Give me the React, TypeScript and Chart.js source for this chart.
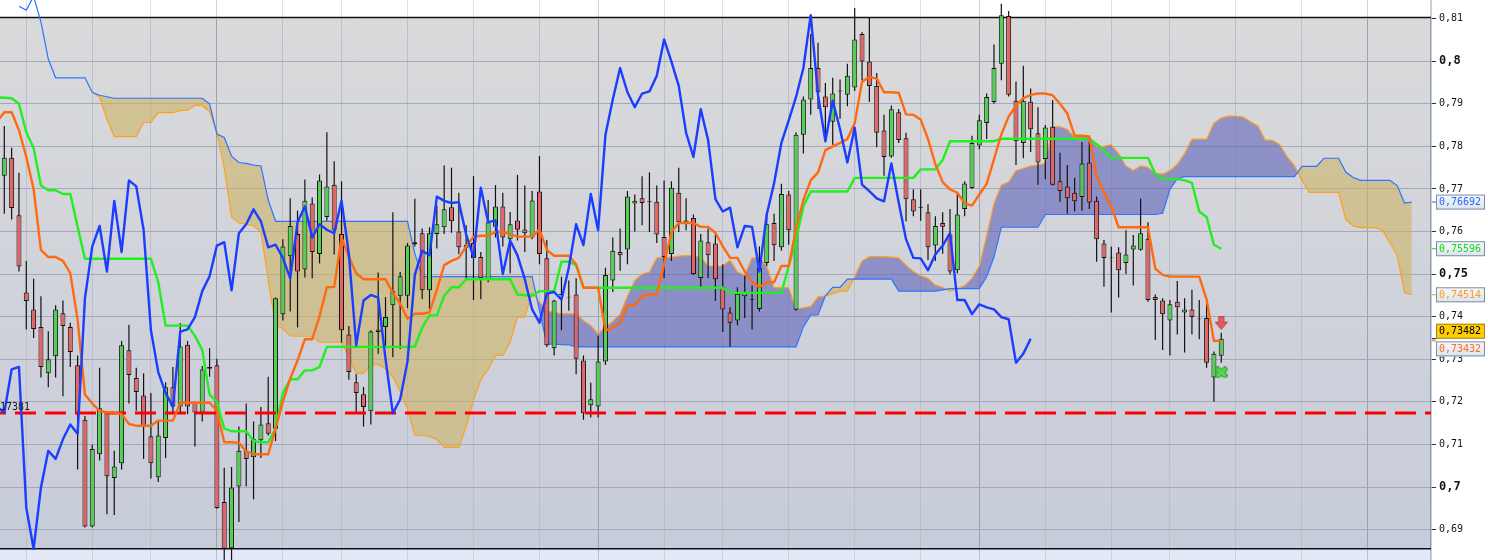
import { useEffect, useRef } from 'react';
import { Chart, registerables } from 'chart.js';

Chart.register(...registerables);

// candles, index 0 = first bar on the left
const opens = [
  0.7731, 0.7773, 0.7638, 0.7457, 0.7417, 0.7376, 0.7267, 0.7307, 0.7408, 0.7376,
  0.7286, 0.7158, 0.6907, 0.7077, 0.7175, 0.7021, 0.7056, 0.7321, 0.7256, 0.7215,
  0.7119, 0.7023, 0.7115, 0.7234, 0.7189, 0.7334, 0.7198, 0.7175, 0.7278, 0.7286,
  0.6965, 0.6856, 0.7001, 0.7086, 0.7070, 0.7110, 0.7150, 0.7137, 0.7406, 0.7542,
  0.7594, 0.7511, 0.7666, 0.7547, 0.7634, 0.7710, 0.7594, 0.7358, 0.7246, 0.7218,
  0.7178, 0.7364, 0.7376, 0.7427, 0.7448, 0.7449, 0.7570, 0.7596, 0.7462, 0.7594,
  0.7610, 0.7657, 0.7600, 0.7562, 0.7573, 0.7540, 0.7487, 0.7611, 0.7659, 0.7582,
  0.7626, 0.7605, 0.7586, 0.7694, 0.7537, 0.7326, 0.7453, 0.7447, 0.7452, 0.7297,
  0.7192, 0.7189, 0.7295, 0.7485, 0.7552, 0.7558, 0.7666, 0.7678, 0.7671, 0.7670,
  0.7587, 0.7547, 0.7691, 0.7620, 0.7632, 0.7491, 0.7575, 0.7572, 0.7469, 0.7410,
  0.7391, 0.7448, 0.7442, 0.7418, 0.7526, 0.7620, 0.7563, 0.7687, 0.7416, 0.7827,
  0.7910, 0.7984, 0.7917, 0.7858, 0.7931, 0.7921, 0.7938, 0.8064, 0.7999, 0.7942,
  0.7837, 0.7776, 0.7880, 0.7819, 0.7676, 0.7658, 0.7645, 0.7567, 0.7620, 0.7593,
  0.7509, 0.7653, 0.7702, 0.7802, 0.7855, 0.7904, 0.7994, 0.8106, 0.7907, 0.7808,
  0.7905, 0.7831, 0.7770, 0.7846, 0.7718, 0.7706, 0.7691, 0.7681, 0.7762, 0.7672,
  0.7572, 0.7539, 0.7551, 0.7526, 0.7558, 0.7557, 0.7583, 0.7446, 0.7438, 0.7391,
  0.7435, 0.7410, 0.7417, 0.7396, 0.7397, 0.7257, 0.7308,
];
const highs = [
  0.7848, 0.7797, 0.7738, 0.7531, 0.7489, 0.7448, 0.7366, 0.7427, 0.7438, 0.7386,
  0.7309, 0.7167, 0.7100, 0.7280, 0.7178, 0.7085, 0.7343, 0.7381, 0.7280, 0.7267,
  0.7221, 0.7154, 0.7246, 0.7282, 0.7385, 0.7343, 0.7200, 0.7284, 0.7326, 0.7301,
  0.7045, 0.7047, 0.7142, 0.7196, 0.7154, 0.7188, 0.7259, 0.7445, 0.7582, 0.7678,
  0.7649, 0.7722, 0.7680, 0.7734, 0.7833, 0.7765, 0.7718, 0.7378, 0.7265, 0.7235,
  0.7368, 0.7504, 0.7446, 0.7645, 0.7505, 0.7573, 0.7677, 0.7607, 0.7610, 0.7661,
  0.7755, 0.7750, 0.7691, 0.7615, 0.7730, 0.7552, 0.7674, 0.7709, 0.7691, 0.7646,
  0.7733, 0.7708, 0.7695, 0.7777, 0.7580, 0.7440, 0.7494, 0.7485, 0.7490, 0.7309,
  0.7245, 0.7355, 0.7515, 0.7586, 0.7607, 0.7695, 0.7687, 0.7730, 0.7739, 0.7708,
  0.7720, 0.7718, 0.7750, 0.7678, 0.7640, 0.7594, 0.7607, 0.7599, 0.7523, 0.7422,
  0.7469, 0.7496, 0.7473, 0.7565, 0.7640, 0.7642, 0.7712, 0.7695, 0.7833, 0.7917,
  0.8064, 0.8043, 0.7949, 0.7961, 0.7957, 0.7994, 0.8125, 0.8068, 0.8103, 0.7972,
  0.7874, 0.7896, 0.7888, 0.7832, 0.7699, 0.7699, 0.7664, 0.7636, 0.7645, 0.7653,
  0.7689, 0.7718, 0.7825, 0.7874, 0.7924, 0.8039, 0.8135, 0.8118, 0.7952, 0.7989,
  0.7936, 0.7892, 0.7850, 0.7909, 0.7785, 0.7756, 0.7726, 0.7810, 0.7812, 0.7682,
  0.7580, 0.7565, 0.7563, 0.7603, 0.7592, 0.7677, 0.7622, 0.7452, 0.7443, 0.7439,
  0.7484, 0.7443, 0.7463, 0.7439, 0.7443, 0.7318, 0.7362,
];
const lows = [
  0.7642, 0.7628, 0.7506, 0.7370, 0.7350, 0.7257, 0.7234, 0.7257, 0.7213, 0.7282,
  0.7041, 0.6905, 0.6905, 0.7062, 0.6936, 0.6934, 0.7041, 0.7196, 0.7179, 0.7066,
  0.7020, 0.7012, 0.7068, 0.7171, 0.7171, 0.7171, 0.7095, 0.7154, 0.7259, 0.6949,
  0.6825, 0.6825, 0.6918, 0.7001, 0.6971, 0.7068, 0.7121, 0.7108, 0.7391, 0.7412,
  0.7375, 0.7492, 0.7490, 0.7525, 0.7625, 0.7546, 0.7339, 0.7252, 0.7175, 0.7142,
  0.7147, 0.7313, 0.7332, 0.7305, 0.7324, 0.7420, 0.7565, 0.7441, 0.7418, 0.7560,
  0.7594, 0.7597, 0.7547, 0.7490, 0.7439, 0.7441, 0.7481, 0.7586, 0.7565, 0.7502,
  0.7579, 0.7552, 0.7582, 0.7523, 0.7329, 0.7309, 0.7368, 0.7414, 0.7265, 0.7158,
  0.7163, 0.7163, 0.7287, 0.7458, 0.7508, 0.7523, 0.7600, 0.7615, 0.7599, 0.7573,
  0.7491, 0.7531, 0.7599, 0.7603, 0.7498, 0.7469, 0.7490, 0.7437, 0.7364, 0.7330,
  0.7380, 0.7397, 0.7370, 0.7412, 0.7519, 0.7531, 0.7555, 0.7569, 0.7414, 0.7783,
  0.7874, 0.7888, 0.7812, 0.7804, 0.7865, 0.7894, 0.7930, 0.7955, 0.7905, 0.7798,
  0.7731, 0.7773, 0.7808, 0.7624, 0.7636, 0.7625, 0.7533, 0.7531, 0.7548, 0.7499,
  0.7502, 0.7636, 0.7700, 0.7793, 0.7817, 0.7900, 0.7955, 0.7917, 0.7756, 0.7772,
  0.7787, 0.7710, 0.7723, 0.7708, 0.7670, 0.7642, 0.7647, 0.7649, 0.7653, 0.7529,
  0.7470, 0.7410, 0.7445, 0.7500, 0.7473, 0.7555, 0.7435, 0.7345, 0.7322, 0.7309,
  0.7358, 0.7316, 0.7358, 0.7347, 0.7280, 0.7200, 0.7292,
];
const closes = [
  0.7773, 0.7655, 0.7518, 0.7437, 0.7371, 0.7282, 0.7300, 0.7417, 0.7378, 0.7317,
  0.7171, 0.6907, 0.7089, 0.7185, 0.7025, 0.7048, 0.7333, 0.7263, 0.7223, 0.7142,
  0.7056, 0.7121, 0.7234, 0.7189, 0.7330, 0.7189, 0.7175, 0.7276, 0.7282, 0.6951,
  0.6855, 0.6999, 0.7085, 0.7066, 0.7112, 0.7147, 0.7125, 0.7443, 0.7565, 0.7613,
  0.7506, 0.7672, 0.7552, 0.7720, 0.7706, 0.7604, 0.7368, 0.7270, 0.7221, 0.7188,
  0.7365, 0.7370, 0.7399, 0.7460, 0.7495, 0.7567, 0.7575, 0.7462, 0.7596, 0.7617,
  0.7652, 0.7624, 0.7563, 0.7569, 0.7538, 0.7490, 0.7622, 0.7659, 0.7586, 0.7617,
  0.7604, 0.7596, 0.7673, 0.7547, 0.7333, 0.7438, 0.7451, 0.7445, 0.7301, 0.7173,
  0.7206, 0.7295, 0.7498, 0.7555, 0.7544, 0.7682, 0.7672, 0.7667, 0.7669, 0.7593,
  0.7540, 0.7703, 0.7622, 0.7626, 0.7500, 0.7579, 0.7544, 0.7488, 0.7417, 0.7386,
  0.7454, 0.7458, 0.7440, 0.7515, 0.7617, 0.7568, 0.7688, 0.7603, 0.7827, 0.7910,
  0.7984, 0.7927, 0.7892, 0.7924, 0.7929, 0.7966, 0.8051, 0.7999, 0.7942, 0.7832,
  0.7775, 0.7887, 0.7815, 0.7676, 0.7647, 0.7656, 0.7563, 0.7613, 0.7611, 0.7506,
  0.7640, 0.7713, 0.7808, 0.7861, 0.7916, 0.7984, 0.8108, 0.7921, 0.7812, 0.7907,
  0.7840, 0.7762, 0.7844, 0.7710, 0.7695, 0.7678, 0.7671, 0.7760, 0.7668, 0.7582,
  0.7538, 0.7537, 0.7509, 0.7546, 0.7567, 0.7596, 0.7439, 0.7439, 0.7406, 0.7429,
  0.7422, 0.7417, 0.7399, 0.7394, 0.7292, 0.7313, 0.73482,
];

// chikou span, first value sits at bar -1
const chikouStart = -1;
const chikou = [
  0.7189,
  0.7175, 0.7276, 0.7282, 0.6951, 0.6855, 0.6999, 0.7085, 0.7066, 0.7112, 0.7147,
  0.7125, 0.7443, 0.7565, 0.7613, 0.7506, 0.7672, 0.7552, 0.7720, 0.7706, 0.7604,
  0.7368, 0.7270, 0.7221, 0.7188, 0.7365, 0.7370, 0.7399, 0.7460, 0.7495, 0.7567,
  0.7575, 0.7462, 0.7596, 0.7617, 0.7652, 0.7624, 0.7563, 0.7569, 0.7538, 0.7490,
  0.7622, 0.7659, 0.7586, 0.7617, 0.7604, 0.7596, 0.7673, 0.7547, 0.7333, 0.7438,
  0.7451, 0.7445, 0.7301, 0.7173, 0.7206, 0.7295, 0.7498, 0.7555, 0.7544, 0.7682,
  0.7672, 0.7667, 0.7669, 0.7593, 0.7540, 0.7703, 0.7622, 0.7626, 0.7500, 0.7579,
  0.7544, 0.7488, 0.7417, 0.7386, 0.7454, 0.7458, 0.7440, 0.7515, 0.7617, 0.7568,
  0.7688, 0.7603, 0.7827, 0.7910, 0.7984, 0.7927, 0.7892, 0.7924, 0.7929, 0.7966,
  0.8051, 0.7999, 0.7942, 0.7832, 0.7775, 0.7887, 0.7815, 0.7676, 0.7647, 0.7656,
  0.7563, 0.7613, 0.7611, 0.7506, 0.7640, 0.7713, 0.7808, 0.7861, 0.7916, 0.7984,
  0.8108, 0.7921, 0.7812, 0.7907, 0.7840, 0.7762, 0.7844, 0.7710, 0.7695, 0.7678,
  0.7671, 0.7760, 0.7668, 0.7582, 0.7538, 0.7537, 0.7509, 0.7546, 0.7567, 0.7596,
  0.7439, 0.7439, 0.7406, 0.7429, 0.7422, 0.7417, 0.7399, 0.7394, 0.7292, 0.7313,
  0.73482,
];

// [bar index, value] vertices
const tenkan: [number, number][] = [
  [-1, 0.7858], [0, 0.788], [1, 0.788], [2, 0.7838], [3, 0.7775], [4, 0.7699], [5, 0.7557], [6, 0.754],
  [7, 0.754], [8, 0.7531], [9, 0.7502], [10, 0.7393], [11, 0.7217], [12, 0.7196], [13, 0.7179], [14, 0.7175],
  [15, 0.7175], [16, 0.7171], [17, 0.7148], [18, 0.7144], [20, 0.7144], [21, 0.7156], [23, 0.7156],
  [24, 0.7198], [28, 0.7198], [29, 0.7179], [30, 0.7105], [31, 0.7105], [32, 0.7104], [33, 0.7083],
  [34, 0.7077], [36, 0.7077], [37, 0.7137], [38, 0.72], [39, 0.7255], [40, 0.7297], [41, 0.7347],
  [42, 0.7347], [43, 0.7401], [44, 0.7469], [45, 0.747], [46, 0.7586], [47, 0.754], [48, 0.7502],
  [49, 0.7488], [52, 0.7488], [53, 0.7456], [54, 0.7431], [55, 0.7395], [56, 0.7407], [57, 0.7407],
  [58, 0.741], [59, 0.7463], [60, 0.7521], [61, 0.7531], [62, 0.7538], [63, 0.7565], [64, 0.7588],
  [65, 0.759], [66, 0.759], [67, 0.7599], [68, 0.7599], [69, 0.7594], [70, 0.7588], [72, 0.7588],
  [73, 0.7605], [74, 0.7557], [75, 0.7543], [77, 0.7543], [78, 0.7523], [79, 0.7468], [81, 0.7468],
  [82, 0.7368], [83, 0.7374], [84, 0.7385], [85, 0.7427], [86, 0.7427], [87, 0.7448], [88, 0.7452],
  [89, 0.7452], [90, 0.7523], [91, 0.7599], [92, 0.762], [94, 0.762], [95, 0.7611], [96, 0.7611],
  [97, 0.7597], [98, 0.7565], [99, 0.7538], [100, 0.7538], [101, 0.7506], [102, 0.7481], [103, 0.747],
  [104, 0.7481], [105, 0.7481], [106, 0.7519], [107, 0.7519], [108, 0.7607], [109, 0.7674], [110, 0.772],
  [111, 0.7739], [112, 0.7791], [113, 0.78], [114, 0.7808], [115, 0.7817], [116, 0.7854], [117, 0.7952],
  [118, 0.7963], [119, 0.7959], [120, 0.7927], [121, 0.7927], [122, 0.7926], [123, 0.7875], [124, 0.7874],
  [125, 0.7863], [126, 0.7817], [127, 0.7758], [128, 0.7716], [129, 0.7699], [130, 0.7691], [131, 0.7666],
  [132, 0.7661], [133, 0.7687], [134, 0.7712], [135, 0.777], [136, 0.7828], [137, 0.787], [138, 0.7895],
  [139, 0.7913], [140, 0.7921], [141, 0.7924], [142, 0.7924], [143, 0.792], [144, 0.79], [145, 0.7877],
  [146, 0.7825], [147, 0.7825], [148, 0.7823], [149, 0.7729], [150, 0.7692], [151, 0.7659], [152, 0.761],
  [156, 0.761], [157, 0.7513], [158, 0.7498], [159, 0.7494], [163, 0.7494], [164, 0.744], [165, 0.7343],
  [166, 0.73432],
];
const kijun: [number, number][] = [
  [-1, 0.7915], [1, 0.7913], [2, 0.79], [3, 0.7833], [4, 0.7796], [5, 0.7708], [6, 0.7697], [7, 0.7697],
  [8, 0.7688], [9, 0.7688], [10, 0.7611], [11, 0.7536], [20, 0.7536], [21, 0.7481], [22, 0.7379],
  [25, 0.7379], [26, 0.7355], [27, 0.7322], [28, 0.7217], [29, 0.72], [30, 0.7137], [31, 0.7131],
  [33, 0.7131], [34, 0.7108], [35, 0.7105], [36, 0.7105], [37, 0.7137], [38, 0.7221], [39, 0.7253],
  [40, 0.7253], [41, 0.7274], [42, 0.7274], [43, 0.7282], [44, 0.7329], [55, 0.7329], [56, 0.733],
  [57, 0.7374], [58, 0.7403], [59, 0.7403], [60, 0.7449], [61, 0.7469], [62, 0.7469], [63, 0.7488],
  [69, 0.7488], [70, 0.7452], [72, 0.7449], [73, 0.746], [75, 0.746], [76, 0.7529], [77, 0.7529],
  [78, 0.7521], [79, 0.7468], [98, 0.7468], [99, 0.7456], [106, 0.7456], [107, 0.7518], [108, 0.7582],
  [109, 0.7659], [110, 0.7694], [115, 0.7694], [116, 0.7726], [124, 0.7726], [125, 0.7746], [127, 0.7746],
  [128, 0.7768], [129, 0.7812], [135, 0.7812], [136, 0.7818], [148, 0.7818], [149, 0.7805], [150, 0.7791],
  [151, 0.7773], [156, 0.7773], [157, 0.7735], [158, 0.7723], [160, 0.7723], [161, 0.772], [162, 0.7714],
  [163, 0.7647], [164, 0.7634], [165, 0.7569], [166, 0.75596],
];
const spanA: [number, number][] = [
  [12, 0.7927], [13, 0.7916], [14, 0.7863], [15, 0.7823], [18, 0.7823], [19, 0.7856], [20, 0.7856],
  [21, 0.7879], [23, 0.7879], [24, 0.7884], [25, 0.7885], [26, 0.7896], [27, 0.7896], [28, 0.7882],
  [29, 0.7833], [30, 0.7749], [31, 0.7634], [32, 0.762], [33, 0.7617], [34, 0.7613], [35, 0.76],
  [36, 0.7486], [37, 0.738], [38, 0.7372], [39, 0.7355], [40, 0.7354], [42, 0.7354], [43, 0.734],
  [46, 0.734], [47, 0.7305], [48, 0.7267], [49, 0.7267], [50, 0.7287], [51, 0.7288], [52, 0.7278],
  [53, 0.7259], [54, 0.7225], [55, 0.7183], [56, 0.7122], [57, 0.7121], [58, 0.7119], [59, 0.7112],
  [60, 0.7093], [62, 0.7093], [63, 0.7142], [64, 0.7204], [65, 0.7252], [66, 0.7276], [67, 0.7309],
  [68, 0.7309], [69, 0.734], [70, 0.7399], [71, 0.7399], [72, 0.7456], [73, 0.7435], [74, 0.7414],
  [75, 0.741], [76, 0.7407], [77, 0.7407], [78, 0.7406], [79, 0.7391], [80, 0.7379], [81, 0.736],
  [82, 0.7376], [83, 0.7389], [84, 0.7406], [85, 0.7448], [86, 0.7485], [87, 0.75], [88, 0.7505],
  [89, 0.7538], [90, 0.754], [91, 0.754], [92, 0.7542], [93, 0.7544], [94, 0.7542], [95, 0.754],
  [96, 0.7519], [98, 0.7519], [99, 0.7533], [100, 0.7505], [101, 0.7498], [102, 0.7538], [103, 0.7538],
  [104, 0.7519], [105, 0.7468], [107, 0.7468], [108, 0.7418], [109, 0.7421], [110, 0.7424], [111, 0.7446],
  [112, 0.7449], [113, 0.7454], [114, 0.746], [115, 0.746], [116, 0.7494], [117, 0.7531], [118, 0.7541],
  [120, 0.7541], [121, 0.754], [122, 0.7538], [123, 0.7521], [124, 0.7506], [125, 0.7496], [126, 0.749],
  [127, 0.7474], [128, 0.7469], [129, 0.746], [130, 0.7466], [131, 0.7473], [132, 0.749], [133, 0.7519],
  [134, 0.759], [135, 0.7666], [136, 0.7709], [137, 0.7716], [138, 0.7743], [139, 0.7748], [140, 0.7754],
  [141, 0.7756], [142, 0.776], [143, 0.7846], [144, 0.7846], [145, 0.784], [146, 0.7821], [147, 0.7823],
  [148, 0.7823], [149, 0.78], [150, 0.78], [151, 0.7804], [152, 0.7783], [153, 0.7754], [154, 0.7743],
  [155, 0.7754], [156, 0.7751], [157, 0.7737], [158, 0.7735], [159, 0.7743], [160, 0.7758], [161, 0.7783],
  [162, 0.7817], [164, 0.7817], [165, 0.7854], [166, 0.7867], [167, 0.7871], [168, 0.7871], [169, 0.7869],
  [170, 0.7858], [171, 0.7848], [172, 0.7815], [173, 0.7814], [174, 0.7804], [175, 0.7775], [176, 0.7754],
  [177, 0.772], [178, 0.7692], [182, 0.7692], [183, 0.7628], [184, 0.7613], [185, 0.7609], [187, 0.7609],
  [188, 0.7603], [189, 0.7573], [190, 0.7544], [191, 0.7456], [192, 0.74514],
];
const spanB: [number, number][] = [
  [2, 0.8129], [3, 0.812], [4, 0.8152], [5, 0.8092], [6, 0.8005], [7, 0.7961], [11, 0.7961], [12, 0.7927],
  [13, 0.792], [15, 0.7913], [27, 0.7913], [28, 0.79], [29, 0.7829], [30, 0.7821], [31, 0.7777],
  [32, 0.7762], [33, 0.776], [34, 0.7756], [35, 0.7754], [36, 0.7674], [37, 0.7624], [55, 0.7624],
  [56, 0.7548], [57, 0.7494], [72, 0.7494], [73, 0.7414], [74, 0.7336], [77, 0.7334], [78, 0.7329],
  [108, 0.7329], [109, 0.7376], [110, 0.7404], [111, 0.7404], [112, 0.7449], [113, 0.7469], [114, 0.7469],
  [115, 0.7488], [121, 0.7488], [122, 0.746], [127, 0.746], [128, 0.7463], [129, 0.7466], [133, 0.7466],
  [134, 0.7494], [135, 0.754], [136, 0.761], [141, 0.761], [142, 0.764], [157, 0.764], [158, 0.7643],
  [159, 0.7699], [160, 0.7724], [161, 0.7729], [176, 0.7729], [177, 0.7753], [179, 0.7753], [180, 0.7772],
  [182, 0.7772], [183, 0.7739], [184, 0.7727], [185, 0.772], [189, 0.772], [190, 0.7708], [191, 0.7667],
  [192, 0.76692],
];

const priceTicks = [0.69, 0.7, 0.71, 0.72, 0.73, 0.74, 0.75, 0.76, 0.77, 0.78, 0.79, 0.8, 0.81];
const majorTicks = [0.7, 0.75, 0.8];
const sessionLines = [3, 12, 20, 29, 38, 46, 55, 64, 73, 81, 90, 98, 107, 116, 125, 133, 142, 151, 159, 168, 177, 186];
const monthLines = [29, 81, 133, 186];
const supportLevel = 0.717381;
const supportLabel = '17381';
// last values shown in the tags: span B, kijun, span A, price, tenkan
const tagValues = [0.76692, 0.75596, 0.74514, 0.73482, 0.73432];
const signalBar = 166;
const sellMark = 0.7386;
const buyMark = 0.7269;

const X_MIN = -0.5866;
const X_MAX = 194.61;
const Y_MIN = 0.68286;
const Y_MAX = 0.814368;
const FRAME_TOP = 0.8103;
const FRAME_BOTTOM = 0.6855;
const MONO = '"DejaVu Sans Mono", monospace';

const TAG_STYLES = [
  { color: '#2466ff', tick: '#2466ff', place: 'center', price: false },
  { color: '#16dd16', tick: '#16dd16', place: 'center', price: false },
  { color: '#ff9a1a', tick: '#ff9a1a', place: 'center', price: false },
  { color: '#000000', tick: '#000000', place: 'above', price: true },
  { color: '#ff6a20', tick: '#ff6a20', place: 'below', price: false },
];

const fmtTick = (v: number) => v.toFixed(2).replace(/0$/, '').replace('.', ',');
const isMajor = (v: number) => majorTicks.some((m) => Math.abs(m - v) < 1e-9);
const pts = (list: [number, number][]) => list.map(([x, y]) => ({ x, y }));

function makeArrow() {
  const c = document.createElement('canvas');
  c.width = 13;
  c.height = 14;
  const g = c.getContext('2d')!;
  g.beginPath();
  g.moveTo(4, 0.5);
  g.lineTo(9, 0.5);
  g.lineTo(9, 6.5);
  g.lineTo(12.5, 6.5);
  g.lineTo(6.5, 13.5);
  g.lineTo(0.5, 6.5);
  g.lineTo(4, 6.5);
  g.closePath();
  g.fillStyle = '#e5585c';
  g.fill();
  g.strokeStyle = '#b23c40';
  g.lineWidth = 1;
  g.stroke();
  return c;
}

function makeCross() {
  const c = document.createElement('canvas');
  c.width = 13;
  c.height = 12;
  const g = c.getContext('2d')!;
  g.lineCap = 'round';
  const draw = () => {
    g.beginPath();
    g.moveTo(3, 3);
    g.lineTo(10, 9);
    g.moveTo(10, 3);
    g.lineTo(3, 9);
    g.stroke();
  };
  g.strokeStyle = '#2f9a2f';
  g.lineWidth = 5.5;
  draw();
  g.strokeStyle = '#52d852';
  g.lineWidth = 3.5;
  draw();
  return c;
}

const backdrop = {
  id: 'backdrop',
  beforeDraw(chart: Chart) {
    const { ctx, chartArea: a } = chart;
    const y = chart.scales.y;
    const top = y.getPixelForValue(FRAME_TOP);
    const bottom = y.getPixelForValue(FRAME_BOTTOM);
    ctx.save();
    ctx.fillStyle = '#ffffff';
    ctx.fillRect(0, 0, chart.width, chart.height);
    const g = ctx.createLinearGradient(0, top, 0, bottom);
    g.addColorStop(0, '#dadadb');
    g.addColorStop(1, '#c7ccda');
    ctx.fillStyle = g;
    ctx.fillRect(a.left, top, a.right - a.left, bottom - top);
    ctx.fillStyle = '#e3e9f9';
    ctx.fillRect(a.left, bottom, a.right - a.left, a.bottom - bottom);
    ctx.restore();
  },
  beforeDatasetsDraw(chart: Chart) {
    const { ctx, chartArea: a } = chart;
    const y = chart.scales.y;
    const top = y.getPixelForValue(FRAME_TOP);
    const bottom = y.getPixelForValue(FRAME_BOTTOM);
    ctx.save();
    // soften the grid in the strips outside the frame
    ctx.fillStyle = 'rgba(255,255,255,0.55)';
    ctx.fillRect(a.left, a.top, a.right - a.left, top - a.top);
    ctx.fillStyle = 'rgba(227,233,249,0.45)';
    ctx.fillRect(a.left, bottom, a.right - a.left, a.bottom - bottom);
    ctx.strokeStyle = '#111111';
    ctx.lineWidth = 1.3;
    for (const py of [top, bottom]) {
      ctx.beginPath();
      ctx.moveTo(a.left, py);
      ctx.lineTo(a.right, py);
      ctx.stroke();
    }
    ctx.restore();
  },
  afterDatasetsDraw(chart: Chart) {
    const { ctx } = chart;
    const py = chart.scales.y.getPixelForValue(supportLevel);
    ctx.save();
    ctx.font = `10px ${MONO}`;
    ctx.fillStyle = '#1a1a1a';
    ctx.textBaseline = 'alphabetic';
    ctx.fillText(supportLabel, 0, py - 3);
    ctx.restore();
  },
  afterDraw(chart: Chart) {
    const { ctx, chartArea: a } = chart;
    const y = chart.scales.y;
    ctx.save();
    ctx.font = `10px ${MONO}`;
    ctx.textBaseline = 'middle';
    tagValues.forEach((v, i) => {
      const s = TAG_STYLES[i];
      const py = y.getPixelForValue(v);
      const h = 15;
      const left = a.right + 5;
      const w = 49;
      let top = py - h / 2;
      if (s.place === 'above') top = py - h;
      if (s.place === 'below') top = py + 0.5;
      ctx.strokeStyle = s.tick;
      ctx.lineWidth = 1;
      ctx.beginPath();
      ctx.moveTo(a.right + 1, py);
      ctx.lineTo(left, py);
      ctx.stroke();
      if (s.price) {
        ctx.fillStyle = '#ffcc00';
      } else {
        const g = ctx.createLinearGradient(0, top, 0, top + h);
        g.addColorStop(0, '#f5f7fb');
        g.addColorStop(1, '#dde4ee');
        ctx.fillStyle = g;
      }
      ctx.fillRect(left, top, w, h);
      ctx.strokeStyle = s.price ? '#9c8630' : '#7d8ea2';
      ctx.strokeRect(left + 0.5, top + 0.5, w - 1, h - 1);
      ctx.fillStyle = s.color;
      ctx.fillText(v.toFixed(5).replace('.', ','), left + 3, top + h / 2 + 0.5);
    });
    ctx.restore();
  },
};

export default function App() {
  const canvasRef = useRef<HTMLCanvasElement>(null);
  const chartRef = useRef<Chart | null>(null);

  useEffect(() => {
    document.body.style.margin = '0';
    if (!canvasRef.current) return;
    if (chartRef.current) chartRef.current.destroy();

    const bodyColors = opens.map((o, i) => (closes[i] >= o ? '#52cf52' : '#e26464'));

    chartRef.current = new Chart(canvasRef.current, {
      type: 'line',
      data: {
        datasets: [
          {
            label: 'Senkou Span A',
            data: pts(spanA),
            borderColor: '#ffa020',
            borderWidth: 1.2,
            pointRadius: 0,
            fill: { target: 1, above: 'rgba(95,98,185,0.6)', below: 'rgba(205,180,100,0.6)' },
            order: 10,
          },
          {
            label: 'Senkou Span B',
            data: pts(spanB),
            borderColor: '#2f74ff',
            borderWidth: 1.2,
            pointRadius: 0,
            fill: false,
            order: 9,
          },
          {
            type: 'bar',
            label: 'Wicks',
            data: opens.map((_, i) => ({ x: i, y: [lows[i], highs[i]] })),
            backgroundColor: '#111111',
            borderWidth: 0,
            barThickness: 1.2,
            inflateAmount: 0,
            grouped: false,
            order: 6,
          },
          {
            type: 'bar',
            label: 'Bodies',
            data: opens.map((o, i) => ({ x: i, y: [Math.min(o, closes[i]), Math.max(o, closes[i])] })),
            backgroundColor: bodyColors,
            borderColor: '#111111',
            borderWidth: 1,
            borderSkipped: false,
            barThickness: 5,
            inflateAmount: 0,
            grouped: false,
            order: 5,
          },
          {
            label: 'Support',
            data: [{ x: -1, y: supportLevel }, { x: 196, y: supportLevel }],
            borderColor: '#ff0000',
            borderWidth: 3,
            borderDash: [21, 9],
            borderDashOffset: 12,
            pointRadius: 0,
            order: 4,
          },
          {
            label: 'Kijun-sen',
            data: pts(kijun),
            borderColor: '#22ee22',
            borderWidth: 2.4,
            pointRadius: 0,
            borderJoinStyle: 'round',
            order: 3,
          },
          {
            label: 'Tenkan-sen',
            data: pts(tenkan),
            borderColor: '#ff6a10',
            borderWidth: 2.4,
            pointRadius: 0,
            borderJoinStyle: 'round',
            order: 2,
          },
          {
            label: 'Chikou Span',
            data: chikou.map((v, j) => ({ x: j + chikouStart, y: v })),
            borderColor: '#1a3dff',
            borderWidth: 2.4,
            pointRadius: 0,
            borderJoinStyle: 'round',
            order: 1,
          },
          {
            label: 'Sell',
            data: [{ x: signalBar, y: sellMark }],
            showLine: false,
            pointStyle: makeArrow(),
            pointRadius: 6,
            order: 0,
          },
          {
            label: 'Buy',
            data: [{ x: signalBar, y: buyMark }],
            showLine: false,
            pointStyle: makeCross(),
            pointRadius: 6,
            order: 0,
          },
        ],
      } as any,
      options: {
        animation: false,
        responsive: true,
        maintainAspectRatio: false,
        events: [],
        layout: { padding: 0, autoPadding: false },
        elements: { line: { tension: 0 } },
        plugins: {
          legend: { display: false },
          tooltip: { enabled: false },
        },
        scales: {
          x: {
            type: 'linear',
            min: X_MIN,
            max: X_MAX,
            offset: false,
            afterBuildTicks: (s: any) => {
              s.ticks = sessionLines.map((v) => ({ value: v }));
            },
            afterFit: (s: any) => {
              s.height = 0;
              s.paddingLeft = 0;
              s.paddingRight = 0;
            },
            ticks: { display: false },
            border: { display: false },
            grid: {
              offset: false,
              drawTicks: false,
              color: (c: any) => (monthLines.includes(c.tick?.value) ? '#9ca1b2' : '#bbbfcc'),
            },
          },
          y: {
            position: 'right',
            min: Y_MIN,
            max: Y_MAX,
            afterBuildTicks: (s: any) => {
              s.ticks = priceTicks.map((v) => ({ value: v }));
            },
            afterFit: (s: any) => {
              s.width = 57;
              s.paddingTop = 0;
              s.paddingBottom = 0;
            },
            ticks: {
              padding: 3,
              color: '#141414',
              autoSkip: false,
              font: (c: any) =>
                isMajor(c.tick?.value) ? { family: MONO, size: 12, weight: 'bold' } : { family: MONO, size: 10 },
              callback: (v: any) => fmtTick(Number(v)),
            },
            grid: { offset: false, color: '#a5a8b7', tickLength: 5, tickColor: '#333333' },
            border: { color: '#8d9db0', width: 1.5 },
          },
        },
      } as any,
      plugins: [backdrop],
    });

    return () => {
      if (chartRef.current) {
        chartRef.current.destroy();
        chartRef.current = null;
      }
    };
  }, []);

  return (
    <div style={{ width: 1488, height: 560, position: 'relative' }}>
      <canvas ref={canvasRef}></canvas>
    </div>
  );
}
